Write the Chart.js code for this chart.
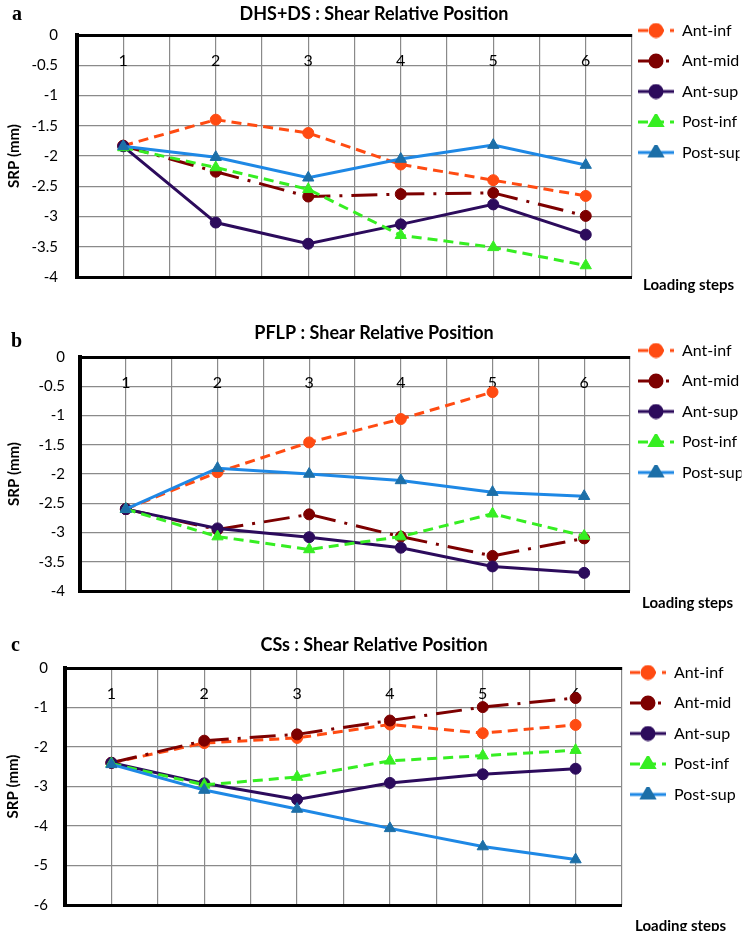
<!DOCTYPE html>
<html>
<head>
<meta charset="utf-8">
<script src="https://cdn.jsdelivr.net/npm/chart.js@4.4.1/dist/chart.umd.min.js"></script>
<style>
  body { margin: 0; background: #fff; }
  #page { position: relative; width: 748px; height: 931px; overflow: hidden; }
  canvas { position: absolute; left: 0; }
  .tag { position: absolute; font: bold 20px "Liberation Serif", serif; line-height: 20px; }
  .steps { position: absolute; font: bold 15px Lato, sans-serif; line-height: 16px; white-space: nowrap; }
</style>
</head>
<body>
<div id="page">
  <canvas id="chartA" width="748" height="305" style="top:0px"></canvas>
  <canvas id="chartB" width="748" height="315" style="top:300px"></canvas>
  <canvas id="chartC" width="748" height="321" style="top:610px"></canvas>
  <div class="tag" style="left:12px;top:3px">a</div>
  <div class="tag" style="left:11px;top:330px">b</div>
  <div class="tag" style="left:11px;top:634px">c</div>
  <div class="steps" style="left:643px;top:276px">Loading steps</div>
  <div class="steps" style="left:642px;top:594px">Loading steps</div>
  <div class="steps" style="left:635px;top:917px">Loading steps</div>
</div>
<script>
var steps = [1, 2, 3, 4, 5, 6];
var seriesNames = ["Ant-inf", "Ant-mid", "Ant-sup", "Post-inf", "Post-sup"];

// a: DHS+DS
var dhsAntInf = [-1.83, -1.40, -1.62, -2.14, -2.40, -2.66];
var dhsAntMid = [-1.83, -2.26, -2.67, -2.63, -2.61, -2.99];
var dhsAntSup = [-1.84, -3.10, -3.45, -3.13, -2.80, -3.30];
var dhsPostInf = [-1.86, -2.19, -2.55, -3.31, -3.51, -3.81];
var dhsPostSup = [-1.84, -2.02, -2.36, -2.05, -1.82, -2.15];

// b: PFLP (Ant-inf has no step 6)
var pflpAntInf = [-2.60, -1.97, -1.46, -1.06, -0.60, null];
var pflpAntMid = [-2.60, -2.95, -2.69, -3.07, -3.40, -3.10];
var pflpAntSup = [-2.60, -2.93, -3.08, -3.26, -3.58, -3.69];
var pflpPostInf = [-2.60, -3.07, -3.29, -3.07, -2.68, -3.06];
var pflpPostSup = [-2.60, -1.90, -2.00, -2.11, -2.31, -2.38];

// c: CSs
var cssAntInf = [-2.40, -1.90, -1.77, -1.43, -1.65, -1.44];
var cssAntMid = [-2.40, -1.84, -1.68, -1.33, -0.99, -0.76];
var cssAntSup = [-2.40, -2.92, -3.33, -2.91, -2.69, -2.55];
var cssPostInf = [-2.42, -2.96, -2.76, -2.35, -2.22, -2.08];
var cssPostSup = [-2.44, -3.09, -3.57, -4.06, -4.52, -4.85];

var styles = [
  { color: "#ff4b12", point: "#ff4b12", dash: [10, 6], dashOffset: 0, shape: "circle", r: 5.5 },
  { color: "#7d0000", point: "#7d0000", dash: [26, 9, 3, 9], dashOffset: 7, shape: "circle", r: 5.5 },
  { color: "#2c0b5c", point: "#2c0b5c", dash: [], dashOffset: 0, shape: "circle", r: 5.5 },
  { color: "#36ee22", point: "#36ee22", dash: [10, 6], dashOffset: 0, shape: "triangle", r: 6.5 },
  { color: "#1e88e5", point: "#1c6fa8", dash: [], dashOffset: 0, shape: "triangle", r: 6.5 }
];

var grey = "#8a8a8a";
var font = "Lato";

function legendIcon(st) {
  var c = document.createElement("canvas");
  c.width = 36;
  c.height = 16;
  var g = c.getContext("2d");
  g.strokeStyle = st.color;
  g.lineWidth = 3;
  g.setLineDash(st.dash);
  g.lineDashOffset = st.dashOffset;
  g.beginPath();
  g.moveTo(0, 8);
  g.lineTo(36, 8);
  g.stroke();
  g.setLineDash([]);
  g.fillStyle = st.point;
  g.strokeStyle = st.point;
  Chart.helpers.drawPoint(g, { pointStyle: st.shape, radius: st.r + 0.5, borderWidth: 1, rotation: 0 }, 18, 8);
  return c;
}

var legendShift = {
  id: "legendShift",
  afterLayout: function (chart, args, opts) {
    var lg = chart.legend;
    lg.left += opts.dx;
    lg.right += opts.dx;
    lg.top += opts.dy;
    lg.bottom += opts.dy;
  }
};

function makePanel(id, title, series, p) {
  var datasets = series.map(function (vals, i) {
    var st = styles[i];
    return {
      label: seriesNames[i],
      data: vals.map(function (v, k) { return { x: steps[k], y: v }; }),
      borderColor: st.color,
      backgroundColor: st.point,
      borderWidth: 3,
      borderDash: st.dash,
      pointStyle: st.shape,
      pointRadius: st.r,
      pointBackgroundColor: st.point,
      pointBorderColor: st.point,
      pointBorderWidth: 1,
      tension: 0,
      order: series.length - i
    };
  });

  new Chart(document.getElementById(id), {
    type: "line",
    data: { datasets: datasets },
    plugins: [legendShift],
    options: {
      responsive: false,
      animation: false,
      devicePixelRatio: 1,
      layout: { padding: { top: 0, left: 0, right: 0, bottom: p.padBottom } },
      scales: {
        x: {
          type: "linear",
          position: "top",
          min: 0.5,
          max: 6.5,
          afterFit: function (s) { s.height = 0; },
          grid: { color: grey, lineWidth: 1.2, drawTicks: false },
          border: { color: "#000", width: 3 },
          ticks: {
            stepSize: 0.5,
            maxTicksLimit: 20,
            autoSkip: false,
            maxRotation: 0,
            mirror: true,
            padding: 16,
            color: "#000",
            font: { family: font, size: 16 },
            callback: function (v) { return Number.isInteger(v) ? String(v) : ""; }
          }
        },
        y: {
          min: p.yMin,
          max: 0,
          afterFit: function (s) { s.width = p.yWidth; },
          grid: {
            drawTicks: false,
            color: function (c) { return c.tick && c.tick.value === p.yMin ? "#000" : grey; },
            lineWidth: function (c) { return c.tick && c.tick.value === p.yMin ? 3 : 1.2; }
          },
          border: { color: "#000", width: 4 },
          ticks: {
            stepSize: p.yStep,
            maxTicksLimit: 20,
            padding: p.yPad,
            color: "#000",
            font: { family: font, size: 15 },
            callback: function (v) { return String(v); }
          },
          title: {
            display: true,
            text: "SRP (mm)",
            color: "#000",
            font: { family: font, size: 15, weight: "bold" },
            padding: { top: p.yTitlePad, bottom: 0 }
          }
        }
      },
      plugins: {
        title: {
          display: true,
          text: title,
          color: "#000",
          font: { family: font, size: 18, weight: "bold" },
          padding: { top: p.titleTop, bottom: p.titleBottom }
        },
        legend: {
          position: "right",
          align: "start",
          maxWidth: p.legendWidth,
          labels: {
            usePointStyle: true,
            pointStyleWidth: 36,
            padding: 14.5,
            color: "#000",
            font: { family: font, size: 16 },
            generateLabels: function (chart) {
              return chart.data.datasets.map(function (ds, i) {
                return {
                  text: ds.label,
                  datasetIndex: i,
                  pointStyle: legendIcon(styles[i]),
                  fillStyle: styles[i].point,
                  strokeStyle: styles[i].point,
                  lineWidth: 0,
                  fontColor: "#000",
                  hidden: false
                };
              });
            }
          }
        },
        tooltip: { enabled: false },
        legendShift: { dx: p.dx, dy: p.dy }
      }
    }
  });
}

makePanel("chartA", "DHS+DS : Shear Relative Position",
  [dhsAntInf, dhsAntMid, dhsAntSup, dhsPostInf, dhsPostSup],
  { padBottom: 19, yMin: -4, yStep: 0.5, yWidth: 77, yPad: 19, yTitlePad: 5,
    titleTop: 3.2, titleBottom: 10.2, legendWidth: 116, dx: -8.5, dy: 8 });

makePanel("chartB", "PFLP : Shear Relative Position",
  [pflpAntInf, pflpAntMid, pflpAntSup, pflpPostInf, pflpPostSup],
  { padBottom: 12, yMin: -4, yStep: 0.5, yWidth: 80, yPad: 15, yTitlePad: 5,
    titleTop: 22.2, titleBottom: 13.2, legendWidth: 118, dx: -6.5, dy: 28 });

makePanel("chartC", "CSs : Shear Relative Position",
  [cssAntInf, cssAntMid, cssAntSup, cssPostInf, cssPostSup],
  { padBottom: 8, yMin: -6, yStep: 1, yWidth: 65, yPad: 17, yTitlePad: 4,
    titleTop: 24.2, titleBottom: 12.2, legendWidth: 126, dx: -6.5, dy: 40 });
</script>
</body>
</html>
